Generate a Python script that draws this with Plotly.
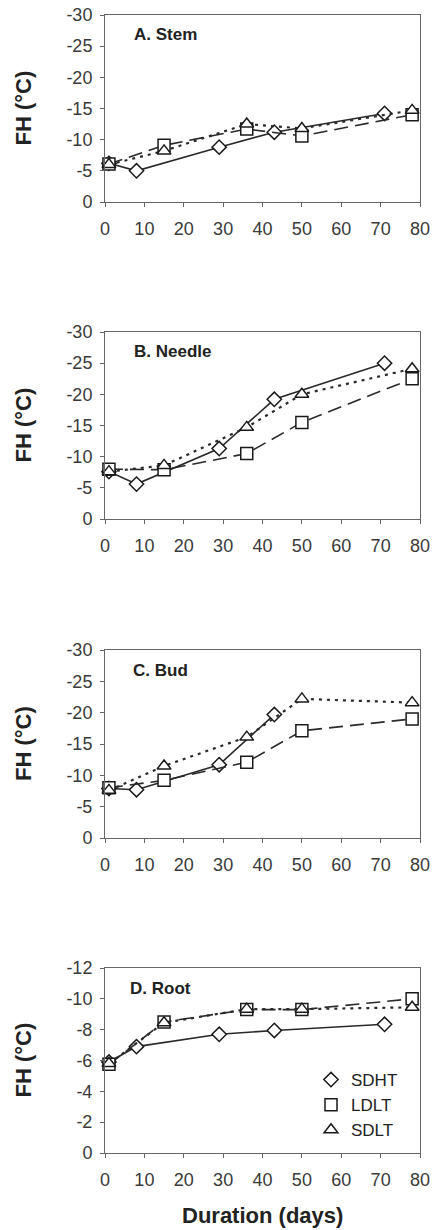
import plotly.graph_objects as go

# ---------------- data ----------------
panels = ["A. Stem", "B. Needle", "C. Bud", "D. Root"]
series_names = ["SDHT", "LDLT", "SDLT"]

days_sdht = [1, 8, 29, 43, 71]
days_sdht_bud = [1, 8, 29, 43]
days_lt = [1, 15, 36, 50, 78]

stem_sdht = [-6.2, -5.0, -8.8, -11.2, -14.2]
stem_ldlt = [-6.1, -9.1, -11.7, -10.6, -14.0]
stem_sdlt = [-6.0, -8.2, -12.5, -11.8, -14.7]

needle_sdht = [-7.6, -5.6, -11.3, -19.2, -25.0]
needle_ldlt = [-8.0, -7.9, -10.5, -15.5, -22.5]
needle_sdlt = [-7.6, -8.6, -14.7, -20.0, -24.1]

bud_sdht = [-7.9, -7.7, -11.7, -19.7]
bud_ldlt = [-8.0, -9.2, -12.1, -17.1, -19.0]
bud_sdlt = [-7.6, -11.5, -16.1, -22.2, -21.6]

root_sdht = [-5.9, -6.9, -7.7, -7.95, -8.35]
root_ldlt = [-5.75, -8.5, -9.3, -9.3, -10.0]
root_sdlt = [-5.8, -8.45, -9.33, -9.33, -9.45]

x_ticks = [0, 10, 20, 30, 40, 50, 60, 70, 80]
x_ticktext = ["0", "10", "20", "30", "40", "50", "60", "70", "80"]
y_ticks_30 = [0, -5, -10, -15, -20, -25, -30]
y_ticktext_30 = ["0", "-5", "-10", "-15", "-20", "-25", "-30"]
y_ticks_12 = [0, -2, -4, -6, -8, -10, -12]
y_ticktext_12 = ["0", "-2", "-4", "-6", "-8", "-10", "-12"]

panel_data = [
    (days_sdht, stem_sdht, days_lt, stem_ldlt, days_lt, stem_sdlt, -30),
    (days_sdht, needle_sdht, days_lt, needle_ldlt, days_lt, needle_sdlt, -30),
    (days_sdht_bud, bud_sdht, days_lt, bud_ldlt, days_lt, bud_sdlt, -30),
    (days_sdht, root_sdht, days_lt, root_ldlt, days_lt, root_sdlt, -12),
]

# ---------------- layout geometry (page pixels) ----------------
W, H = 434, 1230
tops = [15, 332, 650, 968]
bottoms = [202, 519, 838, 1153]
left_px, right_px = 105, 420


def px_x(p):
    return p / W


def px_y(p):
    return 1 - p / H


FONT = "Liberation Sans, Arial, sans-serif"
INK = "#222222"
TICK = "#3a3a3a"
AXIS = "#666666"

styles = [
    dict(symbol="diamond", size=11, dash="solid", width=1.6),
    dict(symbol="square", size=12, dash="14px,7px", width=1.6),
    dict(symbol="triangle-up", size=12, dash="3px,5px", width=2.2),
]

fig = go.Figure()
layout = dict(
    width=W, height=H,
    margin=dict(l=0, r=0, t=0, b=0, autoexpand=False),
    paper_bgcolor="white", plot_bgcolor="white",
    showlegend=True,
    font=dict(family=FONT, color=INK),
)
annotations = []

for i, pdata in enumerate(panel_data):
    xs = [pdata[0], pdata[2], pdata[4]]
    ys = [pdata[1], pdata[3], pdata[5]]
    ymin = pdata[6]
    ax = "" if i == 0 else str(i + 1)
    for k in range(3):
        st = styles[k]
        fig.add_trace(go.Scatter(
            x=xs[k], y=ys[k], mode="lines+markers",
            xaxis="x" + ax, yaxis="y" + ax,
            line=dict(color="#2a2a2a", width=st["width"], dash=st["dash"]),
            marker=dict(symbol=st["symbol"], size=st["size"], color="white",
                        line=dict(color="#1a1a1a", width=1.5)),
            cliponaxis=False, showlegend=False, name=series_names[k],
        ))
    ydom = [px_y(bottoms[i]), px_y(tops[i])]
    xdom = [px_x(left_px), px_x(right_px)]
    if ymin == -30:
        tv, tt = y_ticks_30, y_ticktext_30
    else:
        tv, tt = y_ticks_12, y_ticktext_12
    layout["xaxis" + ax] = dict(
        domain=xdom, range=[0, 80], anchor="y" + ax, automargin=False,
        tickvals=x_ticks, ticktext=x_ticktext, ticklabeloverflow="allow",
        ticks="outside", ticklen=4, tickcolor=AXIS, tickwidth=1,
        showline=True, linecolor=AXIS, linewidth=1, mirror=True,
        showgrid=False, zeroline=False,
        tickfont=dict(family=FONT, size=18, color=TICK),
        ticklabelstandoff=6,
    )
    layout["yaxis" + ax] = dict(
        domain=ydom, range=[0, ymin], anchor="x" + ax, automargin=False,
        tickvals=tv, ticktext=tt, ticklabeloverflow="allow",
        ticks="outside", ticklen=4, tickcolor=AXIS, tickwidth=1,
        showline=True, linecolor=AXIS, linewidth=1, mirror=True,
        showgrid=False, zeroline=False,
        tickfont=dict(family=FONT, size=18, color=TICK),
        ticklabelstandoff=4,
    )
    # panel label
    annotations.append(dict(
        text="<b>" + panels[i] + "</b>", xref="paper", yref="paper",
        x=px_x([132, 132, 131, 128][i]), y=px_y(tops[i] + 20),
        xanchor="left", yanchor="middle", showarrow=False,
        font=dict(family=FONT, size=17, color=INK),
    ))
    # y axis title
    annotations.append(dict(
        text="<b>FH (°C)</b>", xref="paper", yref="paper",
        x=px_x(23), y=px_y((tops[i] + bottoms[i]) / 2),
        xanchor="center", yanchor="middle", textangle=-90, showarrow=False,
        font=dict(family=FONT, size=22, color=INK),
    ))

annotations.append(dict(
    text="<b>Duration (days)</b>", xref="paper", yref="paper",
    x=px_x(262), y=px_y(1215), xanchor="center", yanchor="middle",
    showarrow=False, font=dict(family=FONT, size=22, color=INK),
))

# legend-only entries (marker symbols) for panel D
for k in range(3):
    st = styles[k]
    fig.add_trace(go.Scatter(
        x=[None], y=[None], mode="markers", xaxis="x4", yaxis="y4",
        marker=dict(symbol=st["symbol"], size=st["size"], color="white",
                    line=dict(color="#1a1a1a", width=1.5)),
        name=series_names[k], showlegend=True,
    ))

layout["annotations"] = annotations
layout["legend"] = dict(
    x=px_x(311), y=px_y(1062), xanchor="left", yanchor="top",
    bgcolor="rgba(0,0,0,0)", borderwidth=0,
    font=dict(family=FONT, size=17, color=INK),
    tracegroupgap=0, itemsizing="trace",
)
fig.update_layout(**layout)
fig.write_html(
    "out.html",
    config={"displayModeBar": False},
    post_script="document.body.style.margin='0';"
                "document.documentElement.style.overflow='hidden';",
)
